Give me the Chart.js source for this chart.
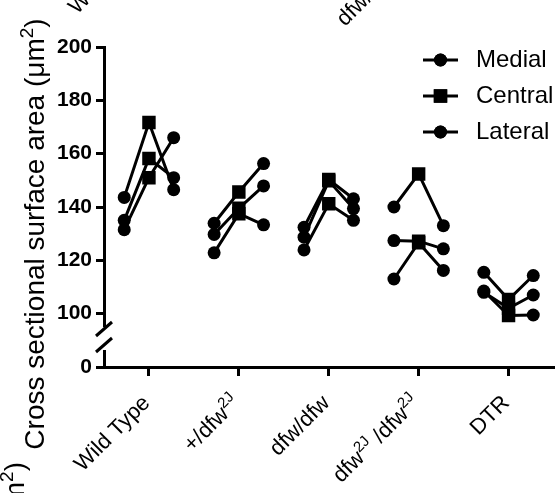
<!DOCTYPE html>
<html>
<head>
<meta charset="utf-8">
<script src="https://cdn.jsdelivr.net/npm/chart.js@4.4.1/dist/chart.umd.min.js"></script>
<style>
  html, body { margin: 0; padding: 0; background: #fff; }
  #wrap { width: 560px; height: 493px; }
</style>
</head>
<body>
<div id="wrap"><canvas id="chart" width="560" height="493"></canvas></div>
<script>
// genotypes on the x axis (^{..} = superscript)
const groups = ["Wild Type", "+/dfw^{2J}", "dfw/dfw", "dfw^{2J} /dfw^{2J}", "DTR"];
const regions = ["Medial", "Central", "Lateral"];

// one value per animal (row = genotype), same animal order in all three
const medial = [
  [143.6, 135.0, 131.5],
  [133.9, 129.7, 122.8],
  [132.4, 128.7, 123.9],
  [140.0, 127.4, 113.0],
  [115.5, 108.0, 108.5],
];
const central = [
  [171.7, 158.2, 151.0],
  [145.6, 139.5, 137.5],
  [150.3, 149.8, 141.2],
  [152.4, 127.2, 126.6],
  [105.3, 102.0, 99.3],
];
const lateral = [
  [146.5, 151.0, 166.0],
  [156.3, 147.9, 133.3],
  [143.1, 139.4, 135.0],
  [133.0, 124.3, 116.2],
  [114.3, 107.0, 99.5],
];

const yTicks = [0, 100, 120, 140, 160, 180, 200];
const yTitle = "Cross sectional surface area (\u03bcm^{2})";

// broken axis: 0 is drawn one step below 100
const breakPos = 80;
const toAxis = v => (v === 0 ? breakPos : v);

const FONT = "'Liberation Sans', Arial, sans-serif";
const spread = 0.275;

const datasets = [];
groups.forEach((g, gi) => {
  medial[gi].forEach((m, ai) => {
    datasets.push({
      label: g + " #" + (ai + 1),
      data: [
        { x: gi - spread, y: m },
        { x: gi, y: central[gi][ai] },
        { x: gi + spread, y: lateral[gi][ai] },
      ],
      showLine: true,
      borderColor: "#000",
      borderWidth: 3,
      backgroundColor: "#000",
      pointStyle: ["circle", "rect", "circle"],
      pointRadius: [6.5, 9.5, 6.5],
      pointBorderWidth: 0,
      pointBackgroundColor: "#000",
    });
  });
});

function parseRich(str) {
  const parts = [];
  const re = /\^\{([^}]*)\}/g;
  let last = 0, m;
  while ((m = re.exec(str))) {
    if (m.index > last) parts.push({ t: str.slice(last, m.index), sup: false });
    parts.push({ t: m[1], sup: true });
    last = re.lastIndex;
  }
  if (last < str.length) parts.push({ t: str.slice(last), sup: false });
  return parts;
}

function drawRich(ctx, str, x, y, angle, align, size, weight) {
  const parts = parseRich(str);
  const font = p => (weight || "normal") + " " + (p.sup ? Math.round(size * 0.68) : size) + "px " + FONT;
  ctx.save();
  ctx.translate(x, y);
  ctx.rotate(angle);
  ctx.textBaseline = "alphabetic";
  ctx.textAlign = "left";
  const widths = parts.map(p => { ctx.font = font(p); return ctx.measureText(p.t).width; });
  const total = widths.reduce((a, b) => a + b, 0);
  let cx = align === "right" ? -total : align === "center" ? -total / 2 : 0;
  parts.forEach((p, i) => {
    ctx.font = font(p);
    ctx.fillText(p.t, cx, p.sup ? -size * 0.4 : 0);
    cx += widths[i];
  });
  ctx.restore();
}

const decor = {
  id: "decor",
  afterDraw(chart) {
    const ctx = chart.ctx;
    const area = chart.chartArea;
    const xs = chart.scales.x;
    ctx.save();

    // axis break
    const ax = area.left;
    ctx.fillStyle = "#fff";
    ctx.fillRect(ax - 3, 327, 6, 23);
    ctx.strokeStyle = "#000";
    ctx.lineWidth = 3;
    ctx.beginPath();
    ctx.moveTo(ax - 8, 336); ctx.lineTo(ax + 8, 322);
    ctx.moveTo(ax - 8, 352); ctx.lineTo(ax + 8, 338);
    ctx.stroke();

    // x labels, rotated
    ctx.fillStyle = "#000";
    groups.forEach((g, i) => {
      drawRich(ctx, g, xs.getPixelForValue(i) + 2, 404, -Math.PI / 4, "right", 22);
    });

    // y title
    drawRich(ctx, yTitle, 44, 234, -Math.PI / 2, "center", 28);

    // legend
    const rows = [60, 96, 132];
    regions.forEach((r, i) => {
      const y = rows[i];
      ctx.strokeStyle = "#000";
      ctx.lineWidth = 3;
      ctx.beginPath();
      ctx.moveTo(423, y); ctx.lineTo(458, y);
      ctx.stroke();
      ctx.fillStyle = "#000";
      Chart.helpers.drawPoint(ctx, {
        pointStyle: i === 1 ? "rect" : "circle",
        radius: i === 1 ? 9.5 : 6.5,
        borderWidth: 0,
      }, 440.5, y);
      ctx.fill();
      ctx.font = "24px " + FONT;
      ctx.textBaseline = "middle";
      ctx.textAlign = "left";
      ctx.fillText(r, 476, y);
    });

    // cut-off labels from the neighbouring panels
    ctx.fillStyle = "#000";
    drawRich(ctx, "Wild Type", 77, 15, -Math.PI / 4, "left", 22);
    drawRich(ctx, "dfw/dfw", 345, 27, -Math.PI / 4, "left", 22);
    drawRich(ctx, "(\u03bcm^{2})", 24, 462, -Math.PI / 2, "right", 28);
    ctx.restore();
  },
};

new Chart(document.getElementById("chart"), {
  type: "scatter",
  data: { datasets },
  options: {
    responsive: false,
    devicePixelRatio: 1,
    animation: false,
    layout: { padding: { top: 47, right: 1, bottom: 0, left: 0 } },
    plugins: { legend: { display: false }, tooltip: { enabled: false } },
    scales: {
      x: {
        type: "linear",
        min: -0.5,
        max: 4.5,
        afterBuildTicks: s => { s.ticks = groups.map((g, i) => ({ value: i })); },
        ticks: { display: false },
        grid: { drawOnChartArea: false, tickLength: 9, lineWidth: 3, color: "#000" },
        border: { width: 3, color: "#000" },
        afterFit: s => { s.height = 126; },
      },
      y: {
        type: "linear",
        min: breakPos,
        max: 200,
        afterBuildTicks: s => { s.ticks = yTicks.map(v => ({ value: toAxis(v) })); },
        ticks: {
          color: "#000",
          padding: 4,
          font: { family: FONT, size: 21, weight: "bold" },
          callback: v => (v === breakPos ? "0" : v),
        },
        grid: { drawOnChartArea: false, tickLength: 8, lineWidth: 3, color: "#000" },
        border: { width: 3, color: "#000" },
        afterFit: s => { s.width = 104; },
      },
    },
  },
  plugins: [decor],
});
</script>
</body>
</html>
